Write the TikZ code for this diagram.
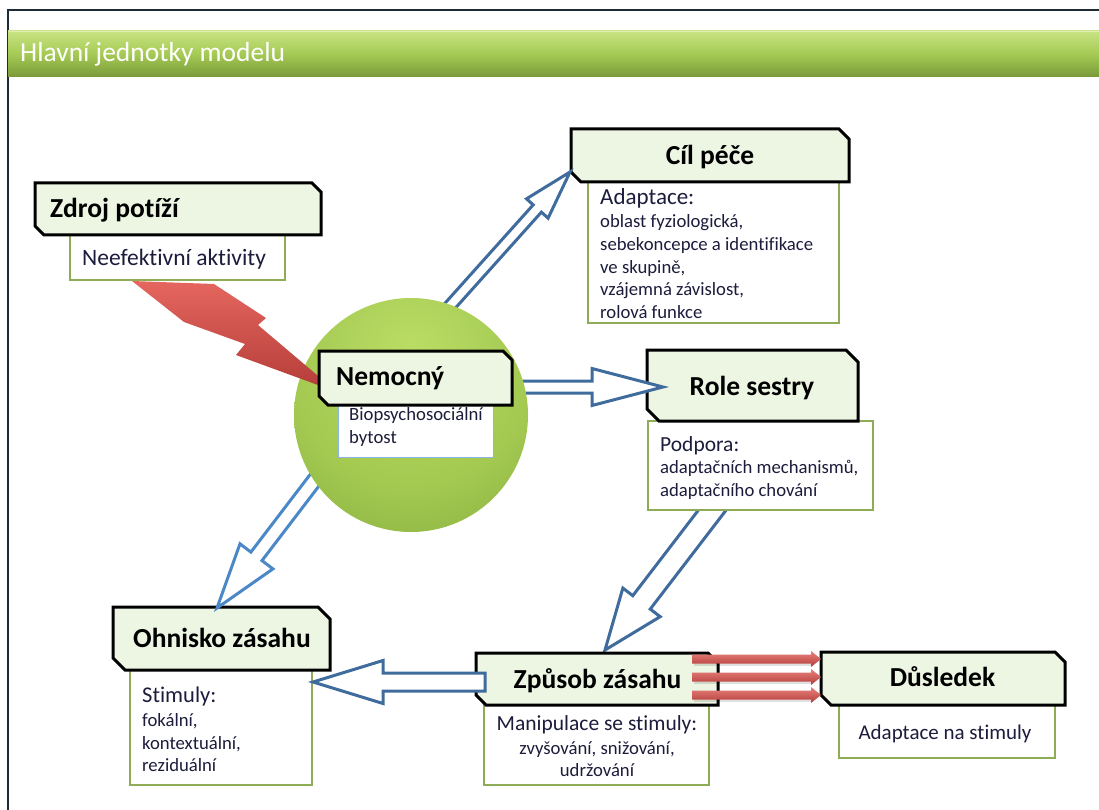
\documentclass[tikz,border=0pt]{standalone}
\usepackage{fontspec}
\setmainfont{Carlito}[Ligatures=NoCommon]
\usetikzlibrary{calc}

\definecolor{bandtop}{HTML}{C8E383}
\definecolor{bandmid}{HTML}{A5CA54}
\definecolor{bandbot}{HTML}{7A9A3A}
\definecolor{framecol}{HTML}{1E2A36}
\definecolor{titlefill}{HTML}{EDF5E3}
\definecolor{bodyline}{HTML}{8DAC55}
\definecolor{bodyblue}{HTML}{8DB3E2}
\definecolor{arrowblue}{HTML}{3F6C9C}
\definecolor{arrowlight}{HTML}{4A88C8}
\definecolor{textnavy}{HTML}{1C1C3C}
\definecolor{ballhi}{HTML}{BBDD66}
\definecolor{ballmid}{HTML}{A3C951}
\definecolor{ballrim}{HTML}{7DA536}
\definecolor{boltlight}{HTML}{E5665F}
\definecolor{boltdark}{HTML}{B33C38}
\definecolor{redlight}{HTML}{E8817C}
\definecolor{reddark}{HTML}{B43E3A}

\pgfdeclareradialshading{nemshade}{\pgfpoint{0bp}{14bp}}{color(0bp)=(ballhi); color(26bp)=(ballmid); color(50bp)=(ballrim); color(100bp)=(ballrim)}

\tikzset{
  titlebox/.style={draw=black, line width=3pt, fill=titlefill, line join=miter},
  bodybox/.style={draw=bodyline, line width=1.2pt, fill=white},
  titletext/.style={font=\fontsize{27.5}{30}\selectfont\bfseries, text=black, inner sep=0pt},
  headtext/.style={font=\fontsize{21.5}{26}\selectfont, text=textnavy, inner sep=0pt},
  smalltext/.style={font=\fontsize{18.7}{22}\selectfont, text=textnavy, inner sep=0pt},
  hollow/.style={draw=arrowblue, line width=3pt, fill=white, line join=miter},
  redarrow/.style={top color=redlight, bottom color=reddark, draw=none},
}

% chamfered title box: name, x1, y1, x2, y2, chamfer
\newcommand\chambox[6]{%
  \path[titlebox] (#2,#3) -- ({#4-#6},#3) -- (#4,{#3+#6}) -- (#4,#5) -- ({#2+#6},#5) -- (#2,{#5-#6}) -- cycle;
  \node[inner sep=0pt, outer sep=0pt, minimum width={(#4-#2)*1pt}, minimum height={(#5-#3)*1pt}, anchor=north west] (#1) at (#2,#3) {};}

% plain description box: name, x1, y1, x2, y2, style
\newcommand\descbox[6]{%
  \node[#6, inner sep=0pt, outer sep=0pt, minimum width={(#4-#2)*1pt}, minimum height={(#5-#3)*1pt}, anchor=north west] (#1) at (#2,#3) {};}

% block arrow: style, tail, tip, shaft half width, head half width, head length
\newcommand\blockarrow[6]{%
  \coordinate (ba-neck) at ($(#3)!#6!(#2)$);
  \path[#1] ($(#2)!#4!90:(#3)$) -- ($(ba-neck)!#4!-90:(#2)$) -- ($(ba-neck)!#5!-90:(#2)$) -- (#3)
    -- ($(ba-neck)!#5!90:(#2)$) -- ($(ba-neck)!#4!90:(#2)$) -- ($(#2)!#4!-90:(#3)$) -- cycle;}

\begin{document}
\begin{tikzpicture}[x=1pt, y=-1pt]
\useasboundingbox (0,0) rectangle (1099,810);
\fill[white] (0,0) rectangle (1099,810);

% slide frame and title band
\draw[framecol, line width=1.5pt] (8,810) -- (8,10) -- (1099,10);
\shade[top color=bandtop, bottom color=bandbot, middle color=bandmid] (8,31) rectangle (1099,77);
\draw[bandtop!60!white, line width=1pt] (9,32) -- (1099,32);
\node[anchor=base west, font=\fontsize{27.5}{30}\selectfont, text=white, inner sep=0pt] (bandtitle) at (20,62) {Hlavní jednotky modelu};

% arrow from Role sestry down to Způsob zásahu (tail hidden below the box)
\coordinate (a4tail) at (720,500);
\coordinate (a4tip) at (605,650);
\blockarrow{hollow}{a4tail}{a4tip}{11pt}{23.5pt}{60pt}

% Zdroj potíží
\descbox{zdrojbody}{70}{235}{285}{280}{bodybox}
\chambox{zdroj}{35}{183}{321}{235}{9}
\node[titletext, anchor=base west] (zdrojt) at (50,218) {Zdroj potíží};
\node[headtext, font=\fontsize{23.5}{26}\selectfont, anchor=base west] (zdrojb) at (82,265) {Neefektivní aktivity};

% Cíl péče
\descbox{cilbody}{588}{182}{839}{323}{bodybox}
\chambox{cil}{571}{129}{849}{182}{10}
\node[titletext, anchor=base] (cilt) at (710,165) {Cíl péče};
\node[headtext, font=\fontsize{23}{26}\selectfont, anchor=base west] (cilh) at (600,205) {Adaptace:};
\node[smalltext, anchor=base west] (cil1) at (600,228) {oblast fyziologická,};
\node[smalltext, anchor=base west] (cil2) at (600,250.5) {sebekoncepce a identifikace};
\node[smalltext, anchor=base west] (cil3) at (600,273) {ve skupině,};
\node[smalltext, anchor=base west] (cil4) at (600,295.5) {vzájemná závislost,};
\node[smalltext, anchor=base west] (cil5) at (600,318) {rolová funkce};

% Role sestry
\descbox{rolebody}{648}{421}{873}{510}{bodybox}
\chambox{role}{647}{350}{858}{421}{12}
\node[titletext, anchor=base] (rolet) at (752,395) {Role sestry};
\node[headtext, anchor=base west] (roleh) at (660,451) {Podpora:};
\node[smalltext, anchor=base west] (role1) at (660,473.5) {adaptačních mechanismů,};
\node[smalltext, anchor=base west] (role2) at (660,496.5) {adaptačního chování};

% Ohnisko zásahu
\descbox{ohnbody}{130}{670}{312}{785}{bodybox}
\chambox{ohn}{113}{607}{330}{670}{12}
\node[titletext, anchor=base west] (ohnt) at (133,647) {Ohnisko zásahu};
\node[headtext, font=\fontsize{22.5}{26}\selectfont, anchor=base west] (ohnh) at (142,702) {Stimuly:};
\node[smalltext, anchor=base west] (ohn1) at (142,726) {fokální,};
\node[smalltext, anchor=base west] (ohn2) at (142,749.5) {kontextuální,};
\node[smalltext, anchor=base west] (ohn3) at (142,771.5) {reziduální};

% Způsob zásahu
\descbox{zpbody}{484}{705}{709}{785}{bodybox}
\chambox{zp}{476}{653}{718}{705}{10}
\node[titletext, anchor=base] (zpt) at (597.5,688) {Způsob zásahu};
\node[headtext, anchor=base] (zph) at (597,730) {Manipulace se stimuly:};
\node[smalltext, anchor=base] (zp1) at (597,754) {zvyšování, snižování,};
\node[smalltext, anchor=base] (zp2) at (597,776) {udržování};

% Důsledek
\descbox{dusbody}{839}{705}{1055}{758}{bodybox}
\chambox{dus}{821}{652}{1065}{705}{10}
\node[titletext, anchor=base] (dust) at (942.5,686) {Důsledek};
\node[headtext, font=\fontsize{21}{26}\selectfont, anchor=base] (dusb) at (945,739) {Adaptace na stimuly};

% hollow arrows leaving the patient circle
\coordinate (a1tail) at (440,317);
\coordinate (a1tip) at (570,172);
\blockarrow{hollow}{a1tail}{a1tip}{5.5pt}{14.5pt}{49pt}
\coordinate (a2tail) at (505,387);
\coordinate (a2tip) at (663,387);
\blockarrow{hollow}{a2tail}{a2tip}{6pt}{18.5pt}{71pt}
\coordinate (a3tail) at (330,460);
\coordinate (a3tip) at (217,608);
\blockarrow{hollow, draw=arrowlight}{a3tail}{a3tip}{7pt}{20.7pt}{65pt}

% arrow from Způsob zásahu back to Ohnisko zásahu
\coordinate (a5tail) at (485,682);
\coordinate (a5tip) at (313,682);
\blockarrow{hollow}{a5tail}{a5tip}{9pt}{21.5pt}{70pt}

% three red arrows to Důsledek
\foreach \yy/\nm in {659/r1, 677/r2, 695/r3}{
  \coordinate (\nm tail) at (692,\yy);
  \coordinate (\nm tip) at (821,\yy);
  \fill[black, opacity=0.12] (694,\yy+2) rectangle (812,\yy+7);
  \blockarrow{redarrow}{\nm tail}{\nm tip}{4.5pt}{8pt}{10pt}
}

% the patient: green ball
\shade[shading=nemshade] (411,415) circle[radius=117];

% lightning bolt from the problem source
\path[top color=boltlight, bottom color=boltdark, draw=none]
  (132,281) -- (214,284) -- (266,318) -- (258,325) -- (337,392)
  -- (236,355) -- (245,344) -- (184,322) -- cycle;

% Nemocný
\descbox{nembody}{338}{396}{493}{457}{draw=bodyblue, line width=1pt, fill=white}
\chambox{nem}{319}{351}{512}{405}{9}
\node[titletext, anchor=base west] (nemt) at (336,385) {Nemocný};
\node[smalltext, anchor=base west] (nem1) at (349,420) {Biopsychosociální};
\node[smalltext, anchor=base west] (nem2) at (349,443) {bytost};
\end{tikzpicture}
\end{document}
